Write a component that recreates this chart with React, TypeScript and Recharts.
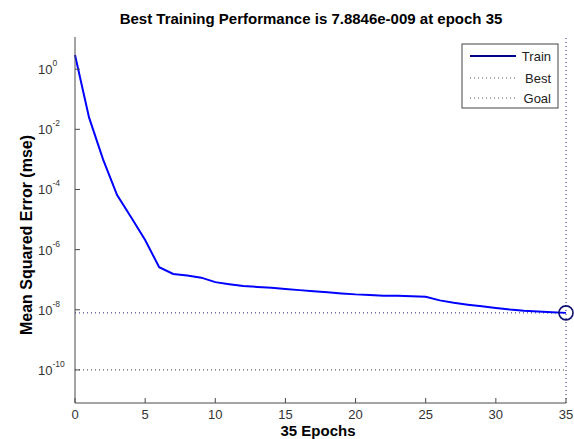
import { LineChart, Line, XAxis, YAxis, ReferenceLine, ReferenceDot } from "recharts";

const epochs = [
  0, 1, 2, 3, 4, 5, 6, 7, 8, 9, 10, 11, 12, 13, 14, 15, 16, 17, 18, 19, 20, 21, 22, 23, 24, 25, 26, 27, 28, 29, 30, 31, 32, 33, 34, 35,
];
const trainMse = [
  2.95, 0.025, 1.0e-3, 6.5e-5, 1.2e-5, 2.1e-6, 2.6e-7, 1.55e-7, 1.38e-7, 1.17e-7, 8.3e-8, 7.1e-8, 6.2e-8, 5.75e-8, 5.4e-8, 4.9e-8,
  4.5e-8, 4.1e-8, 3.8e-8, 3.5e-8, 3.25e-8, 3.1e-8, 2.95e-8, 2.9e-8, 2.8e-8, 2.7e-8, 2.05e-8, 1.7e-8, 1.48e-8, 1.3e-8, 1.15e-8,
  1.02e-8, 9.3e-9, 8.7e-9, 8.3e-9, 7.8846e-9,
];
const xTicks = [0, 5, 10, 15, 20, 25, 30, 35];
const yTicks = [1e-10, 1e-8, 1e-6, 1e-4, 1e-2, 1e0];
const bestEpoch = 35;
const bestPerf = 7.8846e-9;
const goal = 1e-10;

const data = epochs.map((e, i) => ({ epoch: e, train: trainMse[i] }));

const FONT = "'Liberation Sans', Arial, sans-serif";
const AXIS = "#4a4a4a";
const BEST = "#1c1c8a";

// plot box: x 75..566, y 37..403
function XTick(props: any) {
  const { x, payload } = props;
  return (
    <g>
      <line x1={x} y1={403} x2={x} y2={398} stroke={AXIS} />
      <text x={x} y={419} textAnchor="middle" fontSize={13} fill="#333" fontFamily={FONT}>
        {payload.value}
      </text>
    </g>
  );
}

function YTick(props: any) {
  const { y, payload } = props;
  const exp = Math.round(Math.log10(payload.value));
  return (
    <g>
      <line x1={75} y1={y} x2={80} y2={y} stroke={AXIS} />
      <text x={38} y={y + 5} textAnchor="start" fontSize={13} fill="#333" fontFamily={FONT}>
        10
        <tspan dy={-8} fontSize={8.5}>
          {exp}
        </tspan>
      </text>
    </g>
  );
}

export default function App() {
  return (
    <div style={{ position: "absolute", left: 0, top: 0, width: 574, height: 439, background: "#fff" }}>
      <LineChart width={574} height={439} data={data} margin={{ top: 37, right: 8, bottom: 6, left: 35 }}>
        <XAxis
          dataKey="epoch"
          type="number"
          domain={[0, 35]}
          ticks={xTicks}
          height={30}
          tickLine={false}
          stroke={AXIS}
          tick={<XTick />}
          interval={0}
        />
        <YAxis
          scale="log"
          domain={[Math.pow(10, -11.1), Math.pow(10, 1.07)]}
          allowDataOverflow
          ticks={yTicks}
          width={40}
          tickLine={false}
          stroke={AXIS}
          tick={<YTick />}
          interval={0}
        />
        <ReferenceLine y={goal} stroke="#333" strokeDasharray="1 3" />
        <ReferenceLine y={bestPerf} stroke={BEST} strokeDasharray="1 3" />
        <ReferenceLine x={bestEpoch} stroke={BEST} strokeDasharray="1 3" />
        <Line dataKey="train" stroke="#0000ff" strokeWidth={2} dot={false} isAnimationActive={false} />
        <ReferenceDot
          x={bestEpoch}
          y={bestPerf}
          r={7}
          fill="none"
          stroke="#101070"
          strokeWidth={1.6}
          ifOverflow="visible"
        />
        <text x={311} y={24} textAnchor="middle" fontSize={15} fontWeight="bold" fill="#000" fontFamily={FONT}>
          Best Training Performance is 7.8846e-009 at epoch 35
        </text>
        <text x={318} y={436} textAnchor="middle" fontSize={15} fontWeight="bold" fill="#000" fontFamily={FONT}>
          35 Epochs
        </text>
        <text
          x={0}
          y={0}
          transform="translate(32 235) rotate(-90)"
          textAnchor="middle"
          fontSize={16}
          fontWeight="bold"
          fill="#000"
          fontFamily={FONT}
        >
          Mean Squared Error  (mse)
        </text>
        <g>
          <rect x={462} y={44} width={96} height={64} fill="#fff" stroke="#444" />
          <line x1={470} y1={56} x2={516} y2={56} stroke="#00008b" strokeWidth={2} />
          <text x={551} y={61} textAnchor="end" fontSize={13} fill="#222" fontFamily={FONT}>
            Train
          </text>
          <line x1={470} y1={78} x2={517} y2={78} stroke="#555" strokeDasharray="1 3" />
          <text x={551} y={83} textAnchor="end" fontSize={13} fill="#222" fontFamily={FONT}>
            Best
          </text>
          <line x1={470} y1={98} x2={517} y2={98} stroke="#555" strokeDasharray="1 3" />
          <text x={551} y={103} textAnchor="end" fontSize={13} fill="#222" fontFamily={FONT}>
            Goal
          </text>
        </g>
      </LineChart>
    </div>
  );
}
